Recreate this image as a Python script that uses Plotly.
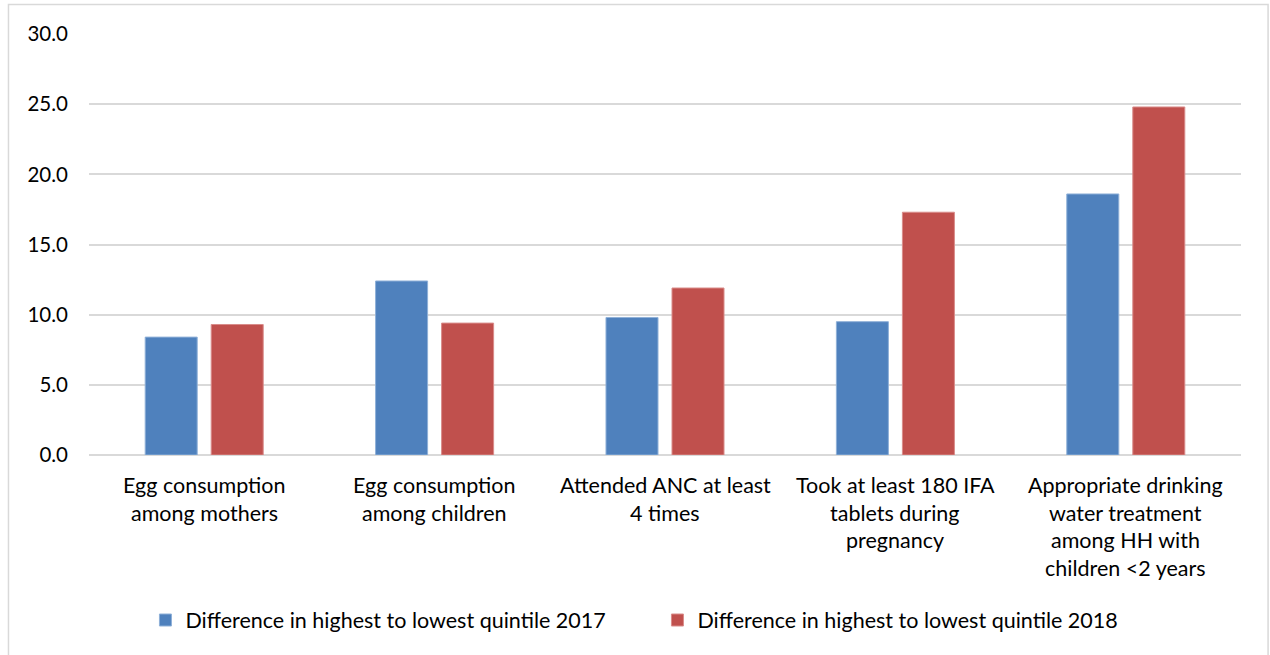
import plotly.graph_objects as go

# Indicators (category labels, one list entry per wrapped line)
categories = [
    "Egg consumption among mothers",
    "Egg consumption among children",
    "Attended ANC at least 4 times",
    "Took at least 180 IFA tablets during pregnancy",
    "Appropriate drinking water treatment among HH with children <2 years",
]
category_lines = [
    ["Egg consumption", "among mothers"],
    ["Egg consumption", "among children"],
    ["Attended ANC at least", "4 times"],
    ["Took at least 180 IFA", "tablets during", "pregnancy"],
    ["Appropriate drinking", "water treatment", "among HH with", "children <2 years"],
]

# Difference between highest and lowest wealth quintile (percentage points)
diff_2017 = [8.4, 12.4, 9.8, 9.5, 18.6]
diff_2018 = [9.3, 9.4, 11.9, 17.3, 24.8]

series_names = [
    "Difference in highest to lowest quintile 2017",
    "Difference in highest to lowest quintile 2018",
]

y_ticks = [0, 5, 10, 15, 20, 25, 30]

FONT = "Lato"
BLUE = "#4F81BD"
RED = "#C0504D"
GRID = "#D9D9D9"

fig = go.Figure()
fig.add_trace(go.Bar(
    x=categories, y=diff_2017, name=series_names[0],
    marker=dict(color=BLUE, line=dict(color="#8FB0D8", width=1)),
))
fig.add_trace(go.Bar(
    x=categories, y=diff_2018, name=series_names[1],
    marker=dict(color=RED, line=dict(color="#D98C8A", width=1)),
))

# Wrapped category labels below the axis
line_step = 27.7
for cat, lines in zip(categories, category_lines):
    for i, txt in enumerate(lines):
        fig.add_annotation(
            x=cat, y=0, xref="x", yref="y",
            text=txt, showarrow=False,
            xanchor="center", yanchor="middle",
            yshift=-(30 + line_step * i),
            font=dict(family=FONT, size=21.5, color="#000000"),
        )

# Light frame around the whole chart
fig.add_shape(
    type="rect", xref="paper", yref="paper",
    x0=-0.0699, x1=1.0235, y0=-0.49, y1=1.0701,
    line=dict(color=GRID, width=1.5), fillcolor="rgba(0,0,0,0)", layer="below",
)

fig.update_layout(
    width=1270, height=655,
    margin=dict(l=89, r=29, t=34, b=200),
    paper_bgcolor="white", plot_bgcolor="white",
    barmode="group", bargap=0.427, bargroupgap=0.212,
    font=dict(family=FONT, size=21, color="#000000"),
    showlegend=True,
    legend=dict(
        orientation="h", x=0.049, y=-0.392, xanchor="left", yanchor="middle",
        font=dict(family=FONT, size=21.5, color="#000000"),
        entrywidth=467, entrywidthmode="pixels",
        itemwidth=30, traceorder="normal",
    ),
    xaxis=dict(showticklabels=False, showline=False, showgrid=False, zeroline=False, ticks=""),
    yaxis=dict(
        range=[0, 30], tickvals=y_ticks, tickformat=".1f",
        showgrid=True, gridcolor=GRID, gridwidth=1.5,
        zeroline=True, zerolinecolor=GRID, zerolinewidth=1.5,
        showline=False, ticks="", ticklabelstandoff=20,
        tickfont=dict(family=FONT, size=20.5, color="#000000"),
    ),
)

fig.write_html("out.html")
